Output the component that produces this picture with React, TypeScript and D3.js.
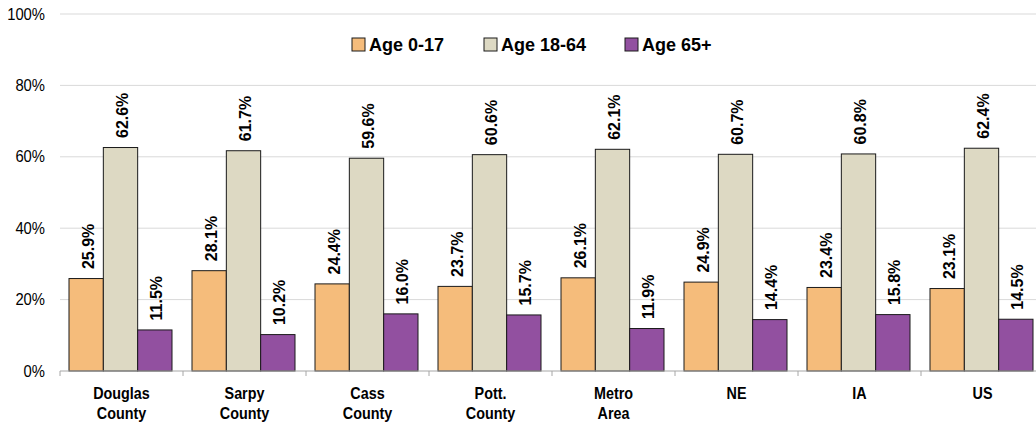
import React from "react";
import * as d3 from "d3";

const categories = ["Douglas County", "Sarpy County", "Cass County", "Pott. County", "Metro Area", "NE", "IA", "US"];
const categoryLines = [["Douglas", "County"], ["Sarpy", "County"], ["Cass", "County"], ["Pott.", "County"], ["Metro", "Area"], ["NE"], ["IA"], ["US"]];
const seriesNames = ["Age 0-17", "Age 18-64", "Age 65+"];
const age0to17 = [25.9, 28.1, 24.4, 23.7, 26.1, 24.9, 23.4, 23.1];
const age18to64 = [62.6, 61.7, 59.6, 60.6, 62.1, 60.7, 60.8, 62.4];
const age65plus = [11.5, 10.2, 16.0, 15.7, 11.9, 14.4, 15.8, 14.5];
const yTicks = [0, 20, 40, 60, 80, 100];
const colors = ["#F5BC7B", "#DDD9C3", "#9250A0"];

const W = 1036;
const H = 426;
const FONT = "Arial, 'Liberation Sans', sans-serif";

export default function App() {
  const series = [age0to17, age18to64, age65plus];
  const x0 = d3.scaleBand<string>().domain(categories).range([60, 1044]).padding(0);
  const x1 = d3.scaleBand<number>().domain([0, 1, 2]).range([9, 112]).padding(0);
  const y = d3.scaleLinear().domain([0, 100]).range([371, 14]);

  const legendX = [352, 484, 625];

  return (
    <svg width={W} height={H} style={{ position: "absolute", left: 0, top: 0, background: "#fff" }} fontFamily={FONT}>
      {yTicks.map((t) => (
        <g key={t}>
          {t > 0 && <line x1={60} x2={W} y1={y(t)} y2={y(t)} stroke="#d9d9d9" strokeWidth={1} />}
          <text transform={`translate(45,${y(t) + 5.5}) scale(0.87,1)`} textAnchor="end" fontSize={17} fill="#000">{t}%</text>
        </g>
      ))}
      {categories.map((c, i) => (
        <g key={c} transform={`translate(${x0(c)},0)`}>
          {series.map((s, k) => {
            const v = s[i];
            const bx = x1(k)!;
            const bw = x1.bandwidth();
            const top = y(v);
            return (
              <g key={k}>
                <rect x={bx} y={top} width={bw} height={y(0) - top} fill={colors[k]} stroke="#1a1a1a" strokeWidth={1} />
                <text
                  transform={`translate(${bx + bw / 2 + 7.5},${top - 9.5}) rotate(-90)`}
                  fontSize={16}
                  fontWeight="bold"
                  fill="#000"
                >
                  {v.toFixed(1)}%
                </text>
              </g>
            );
          })}
          {categoryLines[i].map((ln, j) => (
            <text
              key={j}
              transform={`translate(${x0.bandwidth() / 2},${399 + j * 20}) scale(0.87,1)`}
              textAnchor="middle"
              fontSize={16.5}
              fontWeight="bold"
              fill="#000"
            >
              {ln}
            </text>
          ))}
        </g>
      ))}
      <line x1={60} x2={W} y1={y(0)} y2={y(0)} stroke="#a6a6a6" strokeWidth={1} />
      {categories.map((c) => (
        <line key={c} x1={x0(c)!} x2={x0(c)!} y1={y(0)} y2={y(0) + 5} stroke="#a6a6a6" strokeWidth={1} />
      ))}
      {seriesNames.map((n, k) => (
        <g key={n}>
          <rect x={legendX[k]} y={38} width={13} height={13} fill={colors[k]} stroke="#1a1a1a" strokeWidth={1} />
          <text x={legendX[k] + 17} y={50.5} fontSize={18} fontWeight="bold" fill="#000">{n}</text>
        </g>
      ))}
    </svg>
  );
}
